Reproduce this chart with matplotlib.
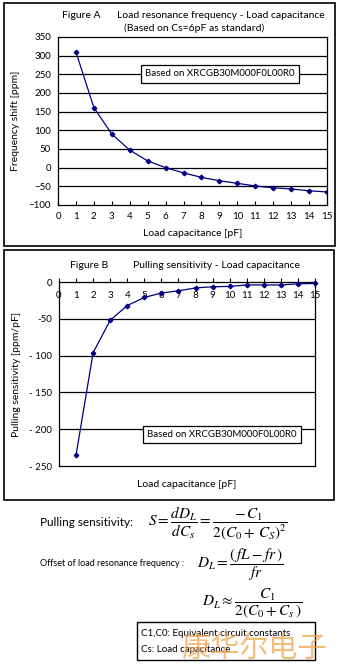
import numpy as np
import matplotlib
matplotlib.use("Agg")
import matplotlib.pyplot as plt
from matplotlib.patches import Rectangle

plt.rcParams['font.family'] = ['Lato', 'DejaVu Sans']
plt.rcParams['mathtext.fontset'] = 'stix'

# Figure A: load resonance frequency shift vs load capacitance
cap = [1, 2, 3, 4, 5, 6, 7, 8, 9, 10, 11, 12, 13, 14, 15]
shift_ppm = [310, 161, 90, 47, 18, 0, -14, -26, -35, -42, -49, -54, -57, -62, -65]

# Figure B: pulling sensitivity vs load capacitance
sens_ppm_pf = [-235, -96, -52, -32, -21, -15, -12, -8, -6.5, -6, -4, -4, -4, -2.5, -2]

W, H = 340, 666
NAVY = '#000080'
FS = 7


def px(x0, y0, x1, y1):
    # pixel box (top-left origin) -> figure fraction rect
    return [x0 / W, 1 - y1 / H, (x1 - x0) / W, (y1 - y0) / H]


fig = plt.figure(figsize=(W / 100, H / 100), dpi=100)

# outer panel frames
for (x0, y0, x1, y1) in [(4, 3, 335, 246), (4, 250, 334, 500)]:
    r = px(x0, y0, x1, y1)
    fig.patches.append(Rectangle((r[0], r[1]), r[2], r[3], transform=fig.transFigure,
                                 fill=False, lw=1.2, ec='black'))

# ---- Figure A ----
a = fig.add_axes(px(58, 37, 327, 205))
a.plot(cap, shift_ppm, color=NAVY, lw=0.9, marker='D', ms=2.3, mfc=NAVY, mec=NAVY)
a.set_xlim(0, 15)
a.set_ylim(-100, 350)
a.set_xticks(range(0, 16))
a.set_yticks(range(-100, 351, 50))
for v in range(-50, 301, 50):
    a.axhline(v, color='black', lw=0.9, zorder=0)
a.tick_params(axis='x', direction='in', length=3, labelsize=FS, pad=5)
a.tick_params(axis='y', direction='out', length=0, labelsize=FS, pad=5)
for s in a.spines.values():
    s.set_linewidth(0.9)
a.set_xlabel('Load capacitance [pF]', fontsize=FS + 0.5, labelpad=6)
a.set_ylabel('Frequency shift [ppm]', fontsize=FS + 0.5, labelpad=6)
a.text(0.325, 0.78, 'Based on XRCGB30M000F0L00R0', transform=a.transAxes, fontsize=FS,
       va='center', ha='left',
       bbox=dict(boxstyle='square,pad=0.45', fc='white', ec='black', lw=0.9))
fig.text(62 / W, 1 - 15 / H, 'Figure A', fontsize=FS + 0.5, va='center')
fig.text(117 / W, 1 - 15 / H, 'Load resonance frequency - Load capacitance', fontsize=FS + 0.5, va='center')
fig.text(124 / W, 1 - 28 / H, '(Based on Cs=6pF as standard)', fontsize=FS + 0.5, va='center')

# ---- Figure B ----
b = fig.add_axes(px(59, 282, 315, 466))
b.plot(cap, sens_ppm_pf, color=NAVY, lw=0.9, marker='D', ms=2.3, mfc=NAVY, mec=NAVY,
       clip_on=False, zorder=5)
b.set_xlim(0, 15)
b.set_ylim(-250, 0)
b.set_xticks(range(0, 16))
b.set_yticks(range(-250, 1, 50))
b.set_yticklabels(['- 250', '- 200', '- 150', '- 100', '-50', '0'])
for v in range(-200, -49, 50):
    b.axhline(v, color='black', lw=0.9, zorder=0)
b.xaxis.tick_top()
b.tick_params(axis='x', direction='out', length=3, labelsize=FS, pad=-16)
b.tick_params(axis='y', direction='out', length=0, labelsize=FS, pad=5)
for s in b.spines.values():
    s.set_linewidth(0.9)
b.set_xlabel('Load capacitance [pF]', fontsize=FS + 0.5, labelpad=10)
b.set_ylabel('Pulling sensitivity [ppm/pF]', fontsize=FS + 0.5, labelpad=6)
b.text(0.345, 0.17, 'Based on XRCGB30M000F0L00R0', transform=b.transAxes, fontsize=FS,
       va='center', ha='left',
       bbox=dict(boxstyle='square,pad=0.4', fc='white', ec='black', lw=0.9))
fig.text(70 / W, 1 - 265 / H, 'Figure B', fontsize=FS + 0.5, va='center')
fig.text(133 / W, 1 - 265 / H, 'Pulling sensitivity - Load capacitance', fontsize=FS + 0.5, va='center')

# ---- formulas ----
fig.text(40 / W, 1 - 523 / H, 'Pulling sensitivity:', fontsize=8.5, va='center')
fig.text(148 / W, 1 - 523 / H, r'$S=\dfrac{dD_L}{dC_s}=\dfrac{-\,C_1}{2(C_0+\,C_S)^2}$',
         fontsize=11, va='center')
fig.text(40 / W, 1 - 563 / H, 'Offset of load resonance frequency :', fontsize=6.5, va='center')
fig.text(197 / W, 1 - 565 / H, r'$D_L=\dfrac{(\,fL-fr\,)}{fr}$', fontsize=11, va='center')
fig.text(202 / W, 1 - 604 / H, r'$D_L\approx\dfrac{C_1}{2(C_0+C_s\,)}$', fontsize=11, va='center')

r = px(137, 622, 315, 660)
fig.patches.append(Rectangle((r[0], r[1]), r[2], r[3], transform=fig.transFigure,
                             fill=False, lw=1.0, ec='black'))
fig.text(141 / W, 1 - 633 / H, 'C1,C0: Equivalent circuit constants', fontsize=7, va='center')
fig.text(141 / W, 1 - 649 / H, 'Cs: Load capacitance', fontsize=7, va='center')

# watermark
fig.text(254 / W, 1 - 649 / H, '康华尔电子', fontsize=21, va='center', ha='center',
         color='#f0a040', alpha=0.7, family=['Noto Sans CJK SC', 'DejaVu Sans'])

fig.savefig('out.png', dpi=100)
